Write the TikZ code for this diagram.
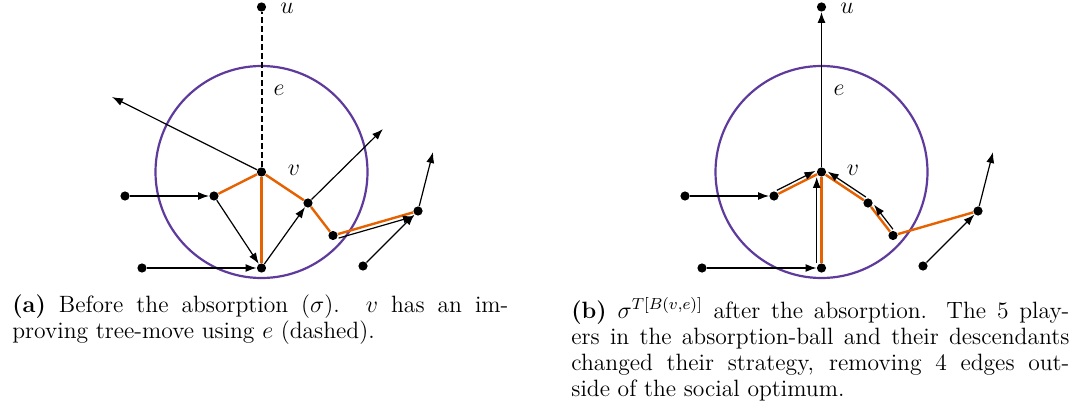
\documentclass[tikz,border=0pt]{standalone}
\usetikzlibrary{arrows.meta}
\definecolor{optorange}{HTML}{E66100}
\definecolor{ballpurple}{HTML}{5D3A9B}
\begin{document}
\begin{tikzpicture}[x=0.5pt,y=-0.5pt,
  dot/.style={circle,fill=black,inner sep=0pt,minimum size=4.6pt},
  arr/.style={-{Latex[length=5.5pt,width=4pt]},line width=0.6pt},
  opt/.style={optorange,line width=1.2pt},
  ball/.style={ballpurple,line width=1.1pt},
  dsh/.style={line width=1pt,dash pattern=on 3pt off 1.5pt},
  lab/.style={font=\fontsize{13}{15}\selectfont,inner sep=0pt},
  captext/.style={anchor=base west,inner sep=0pt,font=\fontsize{11.8}{13}\selectfont}]
\useasboundingbox (0,0) rectangle (1082,417);
% ---------- panel (a) ----------
\node[dot] (au) at (261.5,7) {};
\node[dot] (av) at (261.5,172) {};
\node[dot] (aA) at (214,196) {};
\node[dot] (aB) at (261.5,268) {};
\node[dot] (aC) at (308,203) {};
\node[dot] (aD) at (333,235.5) {};
\node[dot] (aE) at (418,211) {};
\node[dot] (aF) at (363,266) {};
\node[dot] (aiL) at (125,196) {};
\node[dot] (aiB) at (142,268) {};
\coordinate (atL) at (112,97);
\coordinate (atC) at (383,129);
\coordinate (atE) at (433,152);
\draw[ball] (av) circle[radius=106];
\node[lab] (alu) at (287,8) {$u$};
\node[lab] (ale) at (279,90) {$e$};
\node[lab] (alv) at (294,170) {$v$};
\draw[dsh] (av) -- (au);
\draw[opt] (av) -- (aA);
\draw[opt] (av) -- (aB);
\draw[opt] (av) -- (aC);
\draw[opt] (aC) -- (aD);
\draw[opt] (aD) -- (aE);
\draw[arr] (aiL) -- (aA);
\draw[arr] (aA) -- (aB);
\draw[arr] (aiB) -- (aB);
\draw[arr] (aB) -- (aC);
\draw[arr] (av) -- (atL);
\draw[arr] (aC) -- (atC);
\draw[arr,transform canvas={shift={(0.8,4)}}] (aD) -- (aE);
\draw[arr] (aF) -- (aE);
\draw[arr] (aE) -- (atE);
% ---------- panel (b) ----------
\node[dot] (bu) at (821.5,7) {};
\node[dot] (bv) at (821.5,172) {};
\node[dot] (bA) at (774,196) {};
\node[dot] (bB) at (821.5,268) {};
\node[dot] (bC) at (868,203) {};
\node[dot] (bD) at (893,235.5) {};
\node[dot] (bE) at (978,211) {};
\node[dot] (bF) at (923,266) {};
\node[dot] (biL) at (685,196) {};
\node[dot] (biB) at (702,268) {};
\coordinate (btE) at (993,152);
\draw[ball] (bv) circle[radius=106];
\node[lab] (blu) at (847,8) {$u$};
\node[lab] (ble) at (839,90) {$e$};
\node[lab] (blv) at (853,170) {$v$};
\draw[arr] (bv) -- (bu);
\draw[opt] (bv) -- (bA);
\draw[opt] (bv) -- (bB);
\draw[opt] (bv) -- (bC);
\draw[opt] (bC) -- (bD);
\draw[opt] (bD) -- (bE);
\draw[arr] (biL) -- (bA);
\draw[arr] (biB) -- (bB);
\draw[arr] (bF) -- (bE);
\draw[arr] (bE) -- (btE);
\draw[arr,transform canvas={shift={(-1.6,-3.4)}}] (bA) -- (bv);
\draw[arr,transform canvas={shift={(-4.8,0)}}] (bB) -- (bv);
\draw[arr,transform canvas={shift={(2,-3.2)}}] (bC) -- (bv);
\draw[arr,transform canvas={shift={(3,-2.3)}}] (bD) -- (bC);
% ---------- captions ----------
\node[captext] (capa) at (12,312) {\parbox[t]{248pt}{\textbf{(a)} Before the absorption ($\sigma$). $v$ has an im-\linebreak proving tree-move using $e$ (dashed).}};
\node[captext] (capb) at (571,318) {\parbox[t]{249pt}{\textbf{(b)} $\sigma^{T[B(v,e)]}$ after the absorption. The 5 play-\linebreak ers in the absorption-ball and their descendants\linebreak changed their strategy, removing 4 edges out-\linebreak side of the social optimum.}};
\end{tikzpicture}
\end{document}
